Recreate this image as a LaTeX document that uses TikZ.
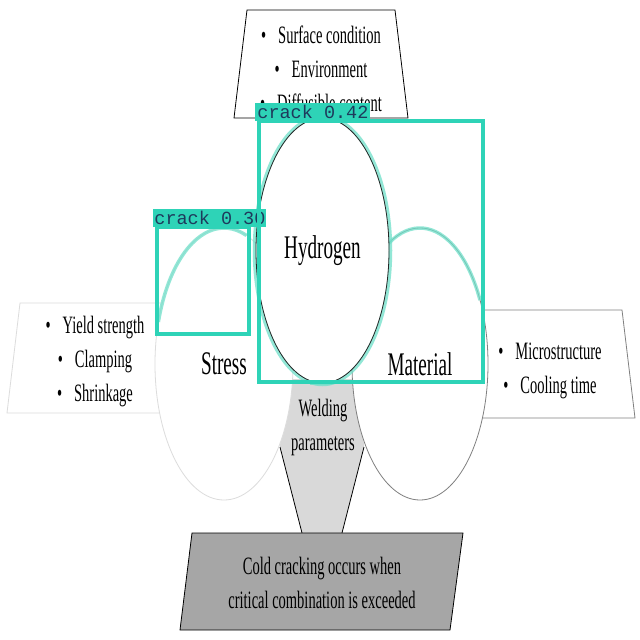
\documentclass[tikz,border=0pt]{standalone}
\usepackage{fontspec}
\setmainfont{Liberation Serif}[FakeStretch=0.58]
\newfontfamily\tagfont{Liberation Mono}
\usetikzlibrary{shapes.geometric,positioning}
\definecolor{ccTeal}  {HTML}{2ED3B7}
\definecolor{ccMask}  {HTML}{6EDFC9}
\definecolor{ccInk}   {HTML}{1E3A5C}
\definecolor{ccFunnel}{HTML}{D9D9D9}
\definecolor{ccBase}  {HTML}{A6A6A6}
\definecolor{ccPale}  {HTML}{DCDCDC}
\definecolor{ccGrey}  {HTML}{808080}

\begin{document}
\begin{tikzpicture}[x=1pt,y=-1pt,
      lbl/.style={font=\fontsize{25}{34}\selectfont,align=center,inner sep=0pt},
      big/.style={font=\fontsize{33}{36}\selectfont},
      factor/.style={ellipse,fill=white,inner sep=0pt,line width=0.8pt,big},
      mask/.style={draw=ccMask,line width=3.5pt,opacity=0.75},
      crackbox/.style={draw=ccTeal,line width=3.5pt,inner sep=0pt,anchor=north west},
      tag/.style={fill=ccTeal,text=ccInk,inner sep=0pt,anchor=south west,
                  font=\tagfont\fontsize{18.5}{18.5}\selectfont}]

    \fill[white] (0,0) rectangle (640,640);
    \useasboundingbox (0,0) rectangle (640,640);

    % factor boxes behind the ellipses
    \draw[ccPale,fill=white,line width=0.8pt] (20,303) -- (200,303) -- (200,413) -- (7,413) -- cycle;
    \draw[ccGrey,fill=white,line width=0.8pt] (440,310) -- (622,310) -- (635,418) -- (440,418) -- cycle;
    \draw[black,fill=white,line width=0.8pt] (247,10) -- (395,10) -- (408,118) -- (234,118) -- cycle;

    % welding parameters funnel
    \coordinate (wl) at (280,447);
    \coordinate (wr) at (364,447);
    \coordinate (bl) at (302,533);
    \coordinate (br) at (342,533);
    \fill[ccFunnel] (285,379) -- (360,379) -- (wr) -- (br) -- (bl) -- (wl) -- cycle;

    \node[factor,draw=ccPale,minimum width=138,minimum height=272] (stress) at (224,364) {Stress};
    \node[factor,draw=ccGrey,minimum width=136,minimum height=272] (mat) at (420,364) {Material};

    \draw[line width=0.8pt] (wl) -- (bl);
    \draw[line width=0.8pt] (wr) -- (br);

    \draw[fill=ccBase,line width=0.8pt] (192,533) -- (463,533) -- (450,630) -- (180,630) -- cycle;

    % mask outlines
    \draw[mask] ([shift={(-162:69 and 136)}]stress.center) arc[start angle=-162,end angle=-71,x radius=69,y radius=136];
    \draw[mask] ([shift={(-125:68 and 136)}]mat.center) arc[start angle=-125,end angle=-28,x radius=68,y radius=136];

    \node[factor,minimum width=133,minimum height=265] (hydro) at (322.5,250.5) {Hydrogen};
    \draw[mask] (hydro.center) ellipse[x radius=68,y radius=134];
    \draw[black!85,line width=0.8pt] (hydro.center) ellipse[x radius=66.5,y radius=132.5];
    \fill[ccMask,opacity=0.75] (310,380) rectangle (332,385);

    % texts
    \node[lbl] (envlist) at (321,69)
      {\textbullet\hspace{12pt}Surface condition\\\textbullet\hspace{12pt}Environment\\\textbullet\hspace{12pt}Diffusible content};
    \node[lbl] (stresslist) at (95,362)
      {\textbullet\hspace{12pt}Yield strength\\\textbullet\hspace{12pt}Clamping\\\textbullet\hspace{12pt}Shrinkage};
    \node[lbl] (matlist) at (550,371)
      {\textbullet\hspace{12pt}Microstructure\\\textbullet\hspace{12pt}Cooling time};
    \node[lbl] (weld) at (323,427) {Welding\\parameters};
    \node[lbl] (verdict) at (322,583) {Cold cracking occurs when\\critical combination is exceeded};

    % detection boxes
    \node[crackbox,minimum width=92,minimum height=107] (crack30) at (155,225) {};
    \node[tag,minimum width=113,minimum height=18] (tag30) at (153.25,226.75) {crack 0.30};
    \node[crackbox,minimum width=224,minimum height=261] (crack42) at (257,119) {};
    \node[tag,minimum width=115,minimum height=18] (tag42) at (255.25,120.75) {crack 0.42};
\end{tikzpicture}
\end{document}
